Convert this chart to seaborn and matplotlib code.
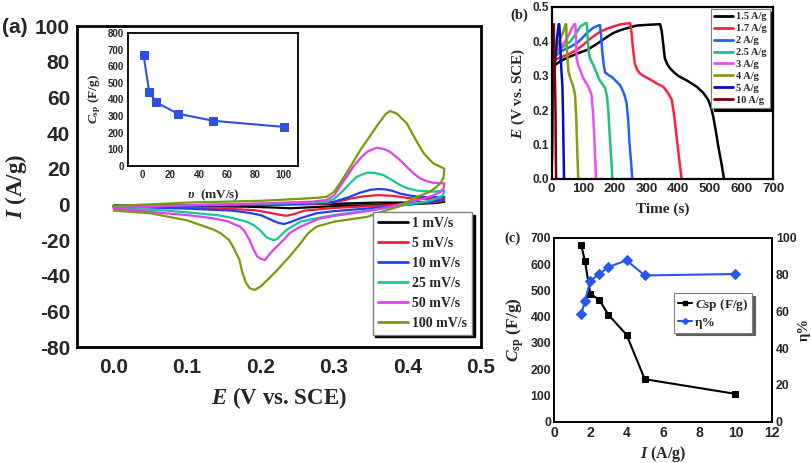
import matplotlib
matplotlib.use("Agg")
import matplotlib.pyplot as plt
import seaborn as sns
from matplotlib.lines import Line2D
from matplotlib.font_manager import FontProperties

sns.set_theme(style="white")
plt.rcParams['font.family'] = ['Liberation Sans', 'DejaVu Sans']
plt.rcParams['axes.unicode_minus'] = False
plt.rcParams['mathtext.fontset'] = 'custom'
plt.rcParams['mathtext.rm'] = 'Liberation Serif:bold'
plt.rcParams['mathtext.it'] = 'Liberation Serif:italic:bold'
plt.rcParams['mathtext.bf'] = 'Liberation Serif:bold'

# ---------------- (a) CV curves ----------------
cv_labels = ["1 mV/s", "5 mV/s", "10 mV/s", "25 mV/s", "50 mV/s", "100 mV/s"]
cv_colors = ["#000000", "#f0203c", "#2040f0", "#19c694", "#e040f0", "#7a9a0e"]

# 1 mV/s
cv1_E_up = [0, 0.1, 0.2, 0.3, 0.34, 0.36, 0.4, 0.45]
cv1_I_up = [-0.8, -0.5, -0.2, 0.3, 0.8, 1.0, 1.0, 1.5]
cv1_E_dn = [0.45, 0.44, 0.4, 0.3, 0.26, 0.24, 0.22, 0.18, 0.1, 0]
cv1_I_dn = [1.5, 0.8, 0.0, -1.0, -1.8, -2.2, -1.8, -1.3, -1.0, -0.8]
# 5 mV/s
cv5_E_up = [0, 0.1, 0.2, 0.29, 0.31, 0.322, 0.34, 0.36, 0.38, 0.4, 0.42, 0.45]
cv5_I_up = [-1.0, -0.6, -0.2, 0.5, 2.0, 3.2, 4.5, 5.2, 4.8, 3.6, 3.0, 2.8]
cv5_E_dn = [0.45, 0.448, 0.43, 0.4, 0.36, 0.3, 0.26, 0.245, 0.235, 0.225, 0.21, 0.19, 0.15, 0.1, 0]
cv5_I_dn = [2.8, 1.9, 1.0, 0.2, -0.8, -2.0, -3.5, -5.5, -6.4, -5.8, -4.5, -3.2, -2.4, -1.9, -1.0]
# 10 mV/s
cv10_E_up = [0, 0.1, 0.2, 0.28, 0.3, 0.32, 0.335, 0.35, 0.36, 0.37, 0.38, 0.39, 0.4, 0.413, 0.43, 0.45]
cv10_I_up = [-1.5, -0.8, -0.2, 0.6, 1.5, 4.0, 6.5, 8.2, 8.6, 8.4, 7.5, 6.0, 5.2, 4.3, 4.0, 4.2]
cv10_E_dn = [0.45, 0.448, 0.43, 0.41, 0.38, 0.35, 0.3, 0.276, 0.254, 0.24, 0.232, 0.225, 0.22, 0.2, 0.18, 0.16, 0.1, 0.05, 0]
cv10_I_dn = [4.2, 2.5, 1.2, 0.2, -1.0, -2.2, -3.8, -5.0, -7.8, -10.0, -11.0, -10.5, -9.7, -6.0, -4.5, -3.5, -2.4, -1.8, -1.3]
# 25 mV/s
cv25_E_up = [0, 0.1, 0.2, 0.27, 0.29, 0.3, 0.313, 0.322, 0.331, 0.345, 0.355, 0.367, 0.378, 0.39, 0.4, 0.413, 0.435, 0.45]
cv25_I_up = [-1.5, -0.5, 0.3, 1.0, 1.5, 3.0, 8.0, 12.0, 15.5, 17.8, 17.7, 16.4, 13.8, 10.8, 9.0, 7.7, 7.1, 7.7]
cv25_E_dn = [0.45, 0.448, 0.44, 0.425, 0.41, 0.38, 0.35, 0.3, 0.28, 0.254, 0.235, 0.222, 0.217, 0.208, 0.199, 0.19, 0.181, 0.16, 0.14, 0.1, 0.072, 0]
cv25_I_dn = [7.7, 5.0, 3.4, 1.5, 0.6, -1.5, -3.3, -6.0, -7.5, -9.7, -14.4, -19.6, -20.0, -18.5, -14.4, -11.5, -9.7, -7.5, -6.0, -4.5, -3.5, -2.2]
# 50 mV/s
cv50_E_up = [0, 0.1, 0.2, 0.27, 0.29, 0.3, 0.308, 0.318, 0.326, 0.336, 0.345, 0.358, 0.368, 0.376, 0.388, 0.399, 0.408, 0.417, 0.426, 0.435, 0.45]
cv50_I_up = [-2.0, -0.5, 0.5, 1.5, 2.5, 5.0, 10.0, 16.0, 21.0, 26.0, 29.5, 31.8, 31.0, 29.5, 25.5, 21.0, 17.5, 14.6, 13.0, 12.1, 11.8]
cv50_E_dn = [0.45, 0.449, 0.445, 0.435, 0.42, 0.4, 0.38, 0.35, 0.3, 0.28, 0.254, 0.24, 0.231, 0.22, 0.213, 0.206, 0.2, 0.195, 0.19, 0.185, 0.178, 0.172, 0.155, 0.135, 0.1, 0.07, 0.03, 0]
cv50_I_dn = [11.8, 9.0, 7.0, 5.0, 3.0, 1.0, -1.0, -3.5, -6.5, -8.0, -12.5, -16.0, -20.0, -24.5, -27.5, -31.2, -30.5, -29.0, -25.0, -20.0, -15.0, -12.5, -9.5, -7.8, -6.0, -5.0, -3.5, -2.5]
# 100 mV/s
cv100_E_up = [0, 0.05, 0.1, 0.15, 0.2, 0.25, 0.28, 0.29, 0.3, 0.31, 0.322, 0.335, 0.345, 0.36, 0.37, 0.376, 0.385, 0.399, 0.41, 0.422, 0.435, 0.445, 0.45]
cv100_I_up = [-0.8, 0.0, 1.0, 1.5, 2.0, 3.0, 3.8, 4.3, 7.0, 13.0, 21.0, 30.0, 36.0, 45.0, 50.5, 52.3, 51.0, 45.4, 37.0, 28.6, 23.0, 21.0, 20.0]
cv100_E_dn = [0.45, 0.449, 0.445, 0.44, 0.43, 0.415, 0.4, 0.39, 0.37, 0.345, 0.3, 0.276, 0.265, 0.254, 0.242, 0.231, 0.22, 0.209, 0.2, 0.192, 0.185, 0.18, 0.175, 0.171, 0.164, 0.157, 0.145, 0.135, 0.1, 0.05, 0]
cv100_I_dn = [20.0, 15.0, 12.0, 10.0, 7.0, 4.5, 1.5, -1.0, -3.5, -7.0, -9.7, -12.5, -16.0, -22.0, -28.0, -33.0, -38.0, -42.5, -46.0, -48.0, -47.0, -44.0, -38.0, -31.0, -25.0, -20.0, -16.0, -14.0, -9.0, -5.0, -3.5]

cv_E_up = [cv1_E_up, cv5_E_up, cv10_E_up, cv25_E_up, cv50_E_up, cv100_E_up]
cv_I_up = [cv1_I_up, cv5_I_up, cv10_I_up, cv25_I_up, cv50_I_up, cv100_I_up]
cv_E_dn = [cv1_E_dn, cv5_E_dn, cv10_E_dn, cv25_E_dn, cv50_E_dn, cv100_E_dn]
cv_I_dn = [cv1_I_dn, cv5_I_dn, cv10_I_dn, cv25_I_dn, cv50_I_dn, cv100_I_dn]

# inset
scan_rate = [1, 5, 10, 25, 50, 100]
csp_scan = [665, 445, 383, 315, 272, 235]

# ---------------- (b) GCD curves ----------------
gcd_labels = ["1.5 A/g", "1.7 A/g", "2 A/g", "2.5 A/g", "3 A/g", "4 A/g", "5 A/g", "10 A/g"]
gcd_colors = ["#000000", "#ff2040", "#2060ff", "#20c080", "#e850f0", "#80a010", "#0010c0", "#800000"]
gcd15_t = [0, 2, 10, 30, 58, 85, 111, 135, 153, 175, 194, 215, 237, 269, 300, 343, 348, 353, 358, 366, 374, 387, 400, 430, 459, 480, 495, 505, 511, 519, 527, 537, 545]
gcd15_E = [0, 0.28, 0.331, 0.344, 0.356, 0.366, 0.375, 0.388, 0.399, 0.413, 0.424, 0.432, 0.438, 0.446, 0.448, 0.45, 0.43, 0.39, 0.35, 0.333, 0.322, 0.31, 0.3, 0.285, 0.268, 0.25, 0.23, 0.205, 0.181, 0.14, 0.094, 0.045, 0.0]
gcd17_t = [0, 2, 10, 35, 58, 80, 100, 125, 153, 175, 194, 220, 248, 252, 257, 263, 270, 279, 290, 310, 332, 353, 368, 380, 388, 395, 403, 411]
gcd17_E = [0, 0.29, 0.346, 0.356, 0.365, 0.376, 0.39, 0.41, 0.428, 0.437, 0.443, 0.45, 0.453, 0.43, 0.38, 0.336, 0.318, 0.307, 0.3, 0.29, 0.278, 0.268, 0.25, 0.23, 0.18, 0.123, 0.06, 0.0]
gcd2_t = [0, 2, 10, 26, 50, 79, 95, 111, 132, 150, 153, 156, 160, 165, 169, 180, 190, 216, 221, 230, 237, 242, 246, 251, 255]
gcd2_E = [0, 0.3, 0.355, 0.37, 0.38, 0.394, 0.408, 0.424, 0.44, 0.447, 0.447, 0.42, 0.37, 0.33, 0.31, 0.302, 0.297, 0.273, 0.264, 0.245, 0.22, 0.17, 0.105, 0.05, 0.0]
gcd25_t = [0, 2, 10, 30, 58, 75, 90, 105, 111, 113, 117, 121, 132, 150, 169, 175, 179, 182, 185, 189, 192]
gcd25_E = [0, 0.31, 0.36, 0.38, 0.399, 0.42, 0.443, 0.452, 0.453, 0.42, 0.37, 0.351, 0.331, 0.29, 0.264, 0.24, 0.2, 0.15, 0.105, 0.05, 0.0]
gcd3_t = [0, 2, 10, 25, 42, 55, 63, 72, 75, 77, 79, 84, 90, 100, 115, 126, 131, 135, 138, 140]
gcd3_E = [0, 0.31, 0.365, 0.38, 0.399, 0.42, 0.438, 0.45, 0.45, 0.4, 0.351, 0.33, 0.317, 0.293, 0.27, 0.245, 0.19, 0.12, 0.05, 0.0]
gcd4_t = [0, 2, 8, 16, 26, 37, 44, 46, 48, 53, 60, 68, 74, 78, 81, 84]
gcd4_E = [0, 0.31, 0.35, 0.38, 0.405, 0.428, 0.45, 0.45, 0.38, 0.312, 0.29, 0.27, 0.245, 0.17, 0.08, 0.0]
gcd5_t = [0, 2, 6, 10, 17, 22, 24, 26, 28, 31, 34, 36, 38, 39]
gcd5_E = [0, 0.25, 0.3, 0.33, 0.41, 0.45, 0.45, 0.42, 0.37, 0.312, 0.27, 0.18, 0.06, 0.0]
gcd10_t = [0, 1, 3, 5, 7, 8, 10, 12, 13, 14]
gcd10_E = [0, 0.2, 0.38, 0.45, 0.45, 0.35, 0.3, 0.2, 0.08, 0.0]
gcd_t = [gcd15_t, gcd17_t, gcd2_t, gcd25_t, gcd3_t, gcd4_t, gcd5_t, gcd10_t]
gcd_E = [gcd15_E, gcd17_E, gcd2_E, gcd25_E, gcd3_E, gcd4_E, gcd5_E, gcd10_E]

# ---------------- (c) Csp and efficiency ----------------
current_density = [1.5, 1.7, 2, 2.5, 3, 4, 5, 10]
csp_current = [672, 614, 487, 464, 407, 331, 162, 106]
eta_pct = [58.5, 65.5, 76.7, 80.4, 84.2, 87.8, 79.6, 80.4]

# ---------------- figure ----------------
serif_b = dict(family='Liberation Serif', weight='bold')
fig = plt.figure(figsize=(8.12, 4.63), dpi=100)
axA = fig.add_axes([0.0948, 0.2505, 0.4976, 0.6933])
axI = fig.add_axes([0.1576, 0.6415, 0.2094, 0.2873])
axB = fig.add_axes([0.6794, 0.6134, 0.2726, 0.3715])
axC = fig.add_axes([0.6823, 0.0892, 0.2681, 0.3968])

# (a)
for Eu, Iu, Ed, Id, c in zip(cv_E_up, cv_I_up, cv_E_dn, cv_I_dn, cv_colors):
    sns.lineplot(x=Eu + Ed, y=Iu + Id, sort=False, estimator=None, color=c,
                 linewidth=1.6, ax=axA, legend=False)
axA.set_xlim(-0.05, 0.5)
axA.set_ylim(-80, 100)
axA.set_xticks([0.0, 0.1, 0.2, 0.3, 0.4, 0.5])
axA.set_xticklabels(["0.0", "0.1", "0.2", "0.3", "0.4", "0.5"])
axA.set_yticks(list(range(-80, 101, 20)))
axA.tick_params(axis='both', length=0, labelsize=15)
axA.tick_params(axis='x', pad=8)
axA.tick_params(axis='y', pad=5)
for lab in axA.get_xticklabels() + axA.get_yticklabels():
    lab.set_fontweight('bold')
axA.set_xlabel(r"$\mathit{E}$ (V vs. SCE)", fontsize=16.5, labelpad=6, **serif_b)
axA.set_ylabel(r"$\mathit{I}$ (A/g)", fontsize=16.5, labelpad=4, **serif_b)
for s in axA.spines.values():
    s.set_linewidth(2.0)
    s.set_color('black')
hA = [Line2D([], [], color=c, lw=2) for c in cv_colors]
legA = axA.legend(hA, cv_labels, loc='upper right', bbox_to_anchor=(0.978, 0.42),
                  borderaxespad=0, prop=FontProperties(family='Liberation Serif', weight='bold', size=10),
                  frameon=True, fancybox=False, edgecolor='#808080', framealpha=1,
                  shadow={'color': 'black', 'alpha': 1}, handlelength=2.2,
                  handletextpad=0.3, labelspacing=0.5, borderpad=0.35)
legA.get_frame().set_linewidth(1.0)

# inset
sns.lineplot(x=scan_rate, y=csp_scan, marker='s', markersize=5.5, color='#3050e0',
             markeredgecolor='#3050e0', linewidth=1.5, ax=axI, legend=False)
axI.set_xlim(-10, 110)
axI.set_ylim(0, 800)
axI.set_xticks([0, 20, 40, 60, 80, 100])
axI.set_yticks(list(range(0, 801, 100)))
axI.tick_params(axis='both', length=0, labelsize=7, pad=3)
for lab in axI.get_xticklabels() + axI.get_yticklabels():
    lab.set_fontweight('bold')
axI.set_xlabel(r"$\mathit{υ}$  (mV/s)", fontsize=9.5, labelpad=5, **serif_b)
axI.set_ylabel(r"$\mathit{C}_{\mathrm{sp}}$ (F/g)", fontsize=9.5, labelpad=3, **serif_b)
for s in axI.spines.values():
    s.set_linewidth(1.3)
    s.set_color('black')

# (b)
for t, E, c in zip(gcd_t, gcd_E, gcd_colors):
    sns.lineplot(x=t, y=E, sort=False, estimator=None, color=c, linewidth=1.8,
                 ax=axB, legend=False)
axB.set_xlim(0, 700)
axB.set_ylim(0, 0.5)
axB.set_xticks(list(range(0, 701, 100)))
axB.set_yticks([0.0, 0.1, 0.2, 0.3, 0.4, 0.5])
axB.set_yticklabels(["0.0", "0.1", "0.2", "0.3", "0.4", "0.5"])
axB.tick_params(axis='both', length=0)
axB.tick_params(axis='x', labelsize=9.5, pad=3)
axB.tick_params(axis='y', labelsize=8.5, pad=2)
for lab in axB.get_xticklabels() + axB.get_yticklabels():
    lab.set_fontweight('bold')
axB.set_xlabel("Time (s)", fontsize=11, labelpad=5, **serif_b)
axB.set_ylabel(r"$\mathit{E}$ (V vs. SCE)", fontsize=11, labelpad=4, **serif_b)
for s in axB.spines.values():
    s.set_linewidth(1.6)
    s.set_color('black')
hB = [Line2D([], [], color=c, lw=2) for c in gcd_colors]
legB = axB.legend(hB, gcd_labels, loc='upper right', bbox_to_anchor=(0.986, 0.988),
                  borderaxespad=0, prop=FontProperties(family='Liberation Serif', weight='bold', size=7.5),
                  frameon=True, fancybox=False, edgecolor='#808080', framealpha=1,
                  shadow={'color': 'black', 'alpha': 1}, handlelength=1.8,
                  handletextpad=0.3, labelspacing=0.25, borderpad=0.3)
legB.get_frame().set_linewidth(0.8)

# (c)
sns.lineplot(x=current_density, y=csp_current, marker='s', markersize=5, color='black',
             markeredgecolor='black', linewidth=1.5, ax=axC, legend=False)
axC2 = axC.twinx()
sns.lineplot(x=current_density, y=eta_pct, marker='D', markersize=5.5, color='#2458f0',
             markeredgecolor='#2458f0', linewidth=1.5, ax=axC2, legend=False)
axC.set_xlim(0, 12)
axC.set_ylim(0, 700)
axC2.set_ylim(0, 100)
axC.set_xticks(list(range(0, 13, 2)))
axC.set_yticks(list(range(0, 701, 100)))
axC2.set_yticks(list(range(0, 101, 20)))
axC.tick_params(axis='both', length=0)
axC.tick_params(axis='x', labelsize=10, pad=3)
axC.tick_params(axis='y', labelsize=8.8, pad=2)
axC2.tick_params(axis='y', length=0, labelsize=8.8, pad=3)
for lab in axC.get_xticklabels() + axC.get_yticklabels() + axC2.get_yticklabels():
    lab.set_fontweight('bold')
axC.set_xlabel(r"$\mathit{I}$ (A/g)", fontsize=11.5, labelpad=3, **serif_b)
axC.set_ylabel(r"$\mathit{C}_{\mathrm{sp}}$ (F/g)", fontsize=12.5, labelpad=3, **serif_b)
axC2.set_ylabel("η%", fontsize=10.5, labelpad=1, **serif_b)
for ax in (axC, axC2):
    for s in ax.spines.values():
        s.set_linewidth(1.3)
        s.set_color('black')
hC = [Line2D([], [], color='black', lw=1.5, marker='s', markersize=3),
      Line2D([], [], color='#2458f0', lw=1.5, marker='D', markersize=3)]
legC = axC.legend(hC, [r"$\mathit{C}$sp (F/g)", "η%"], loc='upper right',
                  bbox_to_anchor=(0.91, 0.70), borderaxespad=0,
                  prop=FontProperties(family='Liberation Serif', weight='bold', size=9.5),
                  frameon=True, fancybox=False, edgecolor='#808080', framealpha=1,
                  shadow={'color': '#606060', 'alpha': 1}, handlelength=1.1,
                  handletextpad=0.2, labelspacing=0.25, borderpad=0.3)
legC.get_frame().set_linewidth(0.8)

# panel labels
fig.text(0.003, 0.94, "(a)", fontsize=15, fontweight='bold', va='center', ha='left')
fig.text(0.628, 0.968, "(b)", fontsize=10.5, va='center', ha='left', **serif_b)
fig.text(0.621, 0.485, "(c)", fontsize=10.5, va='center', ha='left', **serif_b)

fig.savefig("out.png", dpi=100)
